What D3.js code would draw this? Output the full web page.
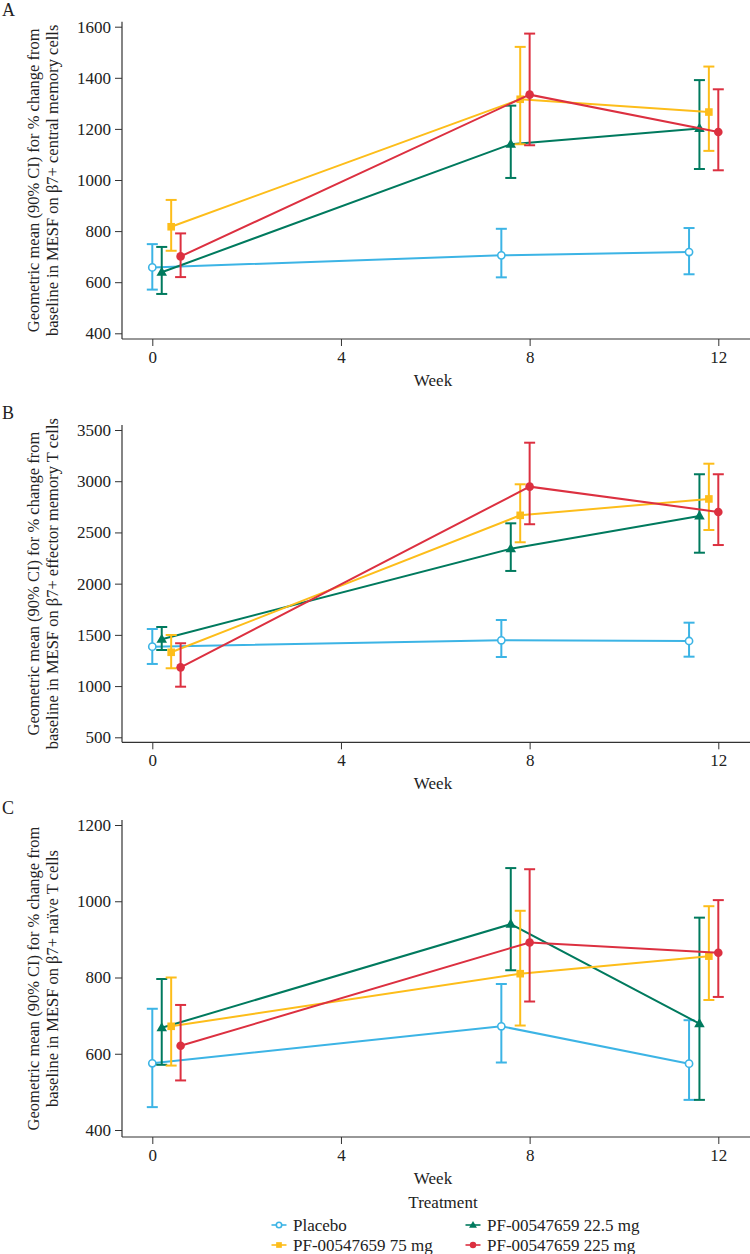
<!DOCTYPE html>
<html>
<head>
<meta charset="utf-8">
<script src="https://cdnjs.cloudflare.com/ajax/libs/d3/7.8.5/d3.min.js"></script>
<style>
  body { margin: 0; background: #fff; }
  svg text { font-family: "Liberation Serif", "DejaVu Serif", serif; fill: #222; }
</style>
</head>
<body>
<div class="chart"></div>
<script>
// treatments, in legend order
var treatments = ["Placebo", "PF-00547659 22.5 mg", "PF-00547659 75 mg", "PF-00547659 225 mg"];
var colors     = ["#3cb4e5", "#007a5e", "#fdbd1a", "#dc3040"];
var shapes     = ["ring", "triangle", "square", "circle"];

// plotted week (dodged a bit per treatment)
var weekPlacebo = [0, 7.4, 11.38];
var week22      = [0.2, 7.6, 11.6];
var week75      = [0.4, 7.8, 11.8];
var week225     = [0.6, 8.0, 12.0];
var weekTicks   = [0, 4, 8, 12];

// A: central memory cells  (rows: placebo, 22.5, 75, 225)
var meanA = [[658, 705, 718], [639, 1140, 1202], [817, 1316, 1266], [701, 1334, 1188]];
var lowA  = [[571, 619, 631], [554, 1008, 1043], [723, 1140, 1114], [620, 1136, 1038]];
var highA = [[749, 809, 812], [738, 1291, 1391], [922, 1521, 1444], [791, 1573, 1355]];
var ticksA = [400, 600, 800, 1000, 1200, 1400, 1600];

// B: effector memory T cells
var meanB = [[1385, 1447, 1440], [1457, 2341, 2661], [1330, 2667, 2827], [1183, 2947, 2700]];
var lowB  = [[1216, 1284, 1287], [1352, 2124, 2302], [1174, 2404, 2524], [994, 2580, 2377]];
var highB = [[1557, 1645, 1619], [1577, 2589, 3068], [1499, 2970, 3171], [1418, 3376, 3068]];
var ticksB = [500, 1000, 1500, 2000, 2500, 3000, 3500];

// C: naive T cells
var meanC = [[575, 672, 574], [668, 940, 679], [672, 810, 856], [621, 892, 865]];
var lowC  = [[460, 577, 479], [571, 819, 479], [569, 674, 741], [530, 737, 749]];
var highC = [[718, 783, 688], [796, 1087, 957], [800, 975, 987], [728, 1084, 1003]];
var ticksC = [400, 600, 800, 1000, 1200];

var weeks = [weekPlacebo, week22, week75, week225];

var width = 750, height = 1254;

var svg = d3.select(".chart").append("svg")
            .attr("width", width)
            .attr("height", height);

var x = d3.scaleLinear()
          .domain([0, 12])
          .range([152.3, 718.3]);

var axisLeftX = 122, axisRightX = 750;

var panels = [
  { label: "A", mean: meanA, low: lowA, high: highA, ticks: ticksA,
    top: 21.7, base: 339, y0: 333.3, y1: 26.7,
    title2: "baseline in MESF on \u03b27+ central memory cells" },
  { label: "B", mean: meanB, low: lowB, high: highB, ticks: ticksB,
    top: 425, base: 742.3, y0: 737.3, y1: 430,
    title2: "baseline in MESF on \u03b27+ effector memory T cells" },
  { label: "C", mean: meanC, low: lowC, high: highC, ticks: ticksC,
    top: 820, base: 1137, y0: 1130, y1: 825,
    title2: "baseline in MESF on \u03b27+ na\u00efve T cells" }
];

function drawMarker(g, shape, color, cx, cy, s) {
  s = s || 1;
  if (shape == "ring") {
    g.append("circle").attr("cx", cx).attr("cy", cy).attr("r", 3.6 * s)
     .attr("fill", "#fff").attr("stroke", color).attr("stroke-width", 1.6);
  } else if (shape == "circle") {
    g.append("circle").attr("cx", cx).attr("cy", cy).attr("r", 4.3 * s)
     .attr("fill", color);
  } else if (shape == "square") {
    g.append("rect").attr("x", cx - 3.8 * s).attr("y", cy - 3.8 * s)
     .attr("width", 7.6 * s).attr("height", 7.6 * s).attr("fill", color);
  } else {
    var sym = d3.symbol().type(d3.symbolTriangle).size(48 * s * s);
    g.append("path").attr("transform", "translate(" + cx + "," + (cy + 0.5) + ")")
     .attr("d", sym).attr("fill", color);
  }
}

panels.forEach(function(p) {
  var domMin = p.ticks[0], domMax = p.ticks[p.ticks.length - 1];
  var y = d3.scaleLinear().domain([domMin, domMax]).range([p.y0, p.y1]);
  var g = svg.append("g");

  // panel letter
  g.append("text").attr("x", 2).attr("y", p.top - 6)
   .style("font-size", "18px").text(p.label);

  // y axis
  var yAxis = d3.axisLeft(y).tickValues(p.ticks).tickFormat(d3.format("d"))
                .tickSize(7).tickPadding(4);
  var ya = g.append("g").attr("transform", "translate(" + axisLeftX + ",0)").call(yAxis);
  ya.select(".domain").remove();
  ya.selectAll("line").attr("stroke", "#333");
  ya.selectAll("text").style("font-size", "17px").style("font-family", "Liberation Serif").attr("fill", "#222");
  g.append("line").attr("x1", axisLeftX).attr("x2", axisLeftX)
   .attr("y1", p.top).attr("y2", p.base).attr("stroke", "#333").attr("stroke-width", 1.2);

  // x axis
  var xAxis = d3.axisBottom(x).tickValues(weekTicks).tickFormat(d3.format("d"))
                .tickSize(7).tickPadding(5);
  var xa = g.append("g").attr("transform", "translate(0," + p.base + ")").call(xAxis);
  xa.select(".domain").remove();
  xa.selectAll("line").attr("stroke", "#333");
  xa.selectAll("text").style("font-size", "17px").style("font-family", "Liberation Serif").attr("fill", "#222");
  g.append("line").attr("x1", axisLeftX).attr("x2", axisRightX)
   .attr("y1", p.base).attr("y2", p.base).attr("stroke", "#333").attr("stroke-width", 1.2);

  g.append("text").attr("x", 433).attr("y", p.base + 47)
   .attr("text-anchor", "middle").style("font-size", "17px").text("Week");

  // y title, two lines
  var cy = (p.top + p.base) / 2;
  var yt = g.append("text").attr("transform", "translate(39," + cy + ") rotate(-90)")
            .attr("text-anchor", "middle").style("font-size", "16.5px");
  yt.append("tspan").attr("x", 0).attr("dy", 0).text("Geometric mean (90% CI) for % change from");
  yt.append("tspan").attr("x", 0).attr("dy", 19).text(p.title2);

  // series
  var line = d3.line()
               .x(function(d) { return x(d.w); })
               .y(function(d) { return y(d.v); });

  treatments.forEach(function(t, i) {
    var pts = weeks[i].map(function(w, j) {
      return { w: w, v: p.mean[i][j], lo: p.low[i][j], hi: p.high[i][j] };
    });
    var sg = g.append("g");
    sg.append("path").datum(pts).attr("d", line)
      .attr("fill", "none").attr("stroke", colors[i]).attr("stroke-width", 2);
    pts.forEach(function(d) {
      var cx = x(d.w);
      sg.append("line").attr("x1", cx).attr("x2", cx).attr("y1", y(d.lo)).attr("y2", y(d.hi))
        .attr("stroke", colors[i]).attr("stroke-width", 2);
      [d.lo, d.hi].forEach(function(v) {
        sg.append("line").attr("x1", cx - 5.5).attr("x2", cx + 5.5).attr("y1", y(v)).attr("y2", y(v))
          .attr("stroke", colors[i]).attr("stroke-width", 2);
      });
    });
    pts.forEach(function(d) { drawMarker(sg, shapes[i], colors[i], x(d.w), y(d.v)); });
  });
});

// legend
var leg = svg.append("g");
leg.append("text").attr("x", 443).attr("y", 1208).attr("text-anchor", "middle")
   .style("font-size", "17px").text("Treatment");

var legPos = [[279, 1225], [473, 1225], [279, 1245], [473, 1245]];
treatments.forEach(function(t, i) {
  var lx = legPos[i][0], ly = legPos[i][1];
  leg.append("line").attr("x1", lx - 7.5).attr("x2", lx + 7.5).attr("y1", ly).attr("y2", ly)
     .attr("stroke", colors[i]).attr("stroke-width", 1.6);
  drawMarker(leg, shapes[i], colors[i], lx, ly, 0.75);
  leg.append("text").attr("x", lx + 14).attr("y", ly + 5.5)
     .style("font-size", "17px").text(t);
});
</script>
</body>
</html>
